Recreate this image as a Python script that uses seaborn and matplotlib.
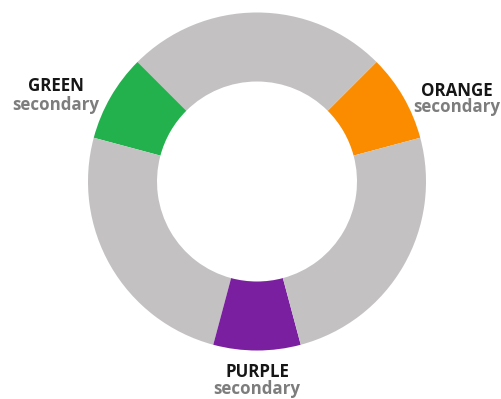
import matplotlib
matplotlib.use("Agg")
import matplotlib.pyplot as plt
import seaborn as sns

sns.set_theme(style="white")
plt.rcParams['font.family'] = ['Open Sans', 'DejaVu Sans']

# Twelve-step colour wheel: only the secondary hues are highlighted,
# the remaining steps are grouped into grey runs of three.
segment_names = ["orange", "rest1", "green", "rest2", "purple", "rest3"]
segment_steps = [1, 3, 1, 3, 1, 3]
segment_colors = ["#fb8c00", "#c3c1c1", "#22b14c", "#c3c1c1", "#7a1fa0", "#c3c1c1"]

label_titles = ["GREEN", "ORANGE", "PURPLE"]
label_subtitle = "secondary"

W, H = 502, 399
fig = plt.figure(figsize=(W / 100, H / 100), dpi=100)
ax = fig.add_axes([0, 0, 1, 1])

cx, cy = 257, H - 181.5
r_out, r_in = 169, 100

ax.pie(segment_steps, colors=segment_colors, startangle=15, counterclock=True,
       center=(cx, cy), radius=r_out,
       wedgeprops=dict(width=r_out - r_in, linewidth=0))

ax.set_xlim(0, W)
ax.set_ylim(0, H)
ax.set_aspect('auto')
ax.axis('off')

title_kw = dict(fontsize=12.2, fontweight='bold', color='#161616', ha='center', va='baseline')
sub_kw = dict(fontsize=12.2, fontweight='bold', color='#7d7d7d', ha='center', va='baseline')

positions = [(56, 91, 110.5), (457, 95.5, 112.5), (257, 377, 394.5)]
for title, (x, y1, y2) in zip(label_titles, positions):
    ax.text(x, H - y1, title, **title_kw)
    ax.text(x, H - y2, label_subtitle, **sub_kw)

fig.savefig("out.png", dpi=100, facecolor="white")
